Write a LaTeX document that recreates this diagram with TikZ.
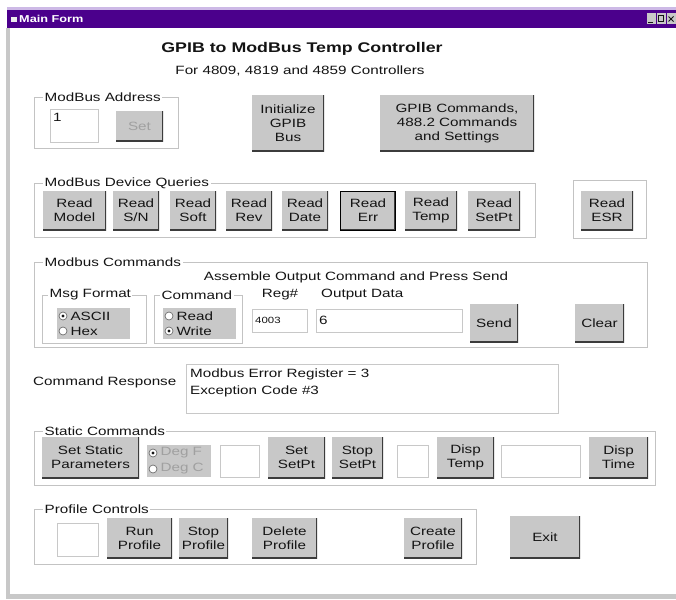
\documentclass[tikz,border=0pt]{standalone}
\usepackage{fontspec}
\setmainfont{Liberation Sans}[FakeStretch=1.27]
\usepackage{tikz}
\usetikzlibrary{positioning}
\definecolor{titlebar}{RGB}{75,0,140}
\definecolor{lavender}{RGB}{205,185,230}
\definecolor{btngray}{RGB}{200,200,200}
\definecolor{btnshade}{RGB}{60,60,60}
\definecolor{grpline}{RGB}{195,195,195}
\definecolor{darkedge}{RGB}{110,110,110}
\definecolor{lightedge}{RGB}{200,200,200}
\definecolor{txtcol}{RGB}{20,20,20}
\definecolor{distxt}{RGB}{160,160,160}
\definecolor{framegray}{RGB}{200,200,200}
\newcommand{\guifont}{\fontsize{12}{14}\selectfont}
\newcommand{\headfont}{\fontsize{14}{16}\selectfont\bfseries}
\newcommand{\smallgui}{\fontsize{9}{11}\selectfont}
\tikzset{
btn/.style = {rectangle, fill=btngray, inner sep=0pt, align=center, text=txtcol, font=\guifont,
  path picture={\draw[btnshade, line width=3pt] (path picture bounding box.south west) -- (path picture bounding box.south east) -- (path picture bounding box.north east);}},
focusbtn/.style = {btn, draw=black, line width=1pt},
tbox/.style = {rectangle, fill=white, draw=lightedge, line width=0.8pt, inner sep=0pt,
  path picture={\draw[darkedge, line width=2.4pt] (path picture bounding box.south west) -- (path picture bounding box.north west) -- (path picture bounding box.north east);}},
grp/.style = {draw=grpline, line width=0.9pt},
grplabel/.style = {font=\guifont, text=txtcol, fill=white, inner sep=1.5pt, anchor=west},
gtext/.style = {font=\guifont, text=txtcol, inner sep=1pt},
distext/.style = {gtext, text=distxt},
headtext/.style = {font=\headfont, text=txtcol, inner sep=0pt},
radioarea/.style = {rectangle, fill=btngray, inner sep=0pt},
radiobtn/.style = {circle, fill=white, draw=darkedge, line width=0.7pt, minimum size=8pt, inner sep=0pt},
radioon/.style = {radiobtn, path picture={\fill[txtcol] (path picture bounding box.center) circle (1.7pt);}},
capbtn/.style = {rectangle, fill=btngray, minimum width=9pt, minimum height=11pt, inner sep=0pt}
}

\begin{document}
\begin{tikzpicture}[x=1pt, y=-1pt]
  \useasboundingbox (0,0) rectangle (676,599);
  \fill[white] (0,0) rectangle (676,599);
  % window frame and caption
  \fill[framegray] (6,28) rectangle (10,599);
  \fill[framegray] (6,594) rectangle (676,599);
  \fill[lavender] (7,7) rectangle (676,10);
  \fill[titlebar] (7,10) rectangle (676,28);
  \fill[white!85!gray] (11,17) rectangle (17,22);
  \node[font=\fontsize{10}{12}\selectfont\bfseries, text=white, anchor=west, inner sep=0pt] (caption) at (19,19) {Main Form};
  \node[capbtn] (minbtn) at (651,19) {};
  \node[capbtn] (maxbtn) at (661,19) {};
  \node[capbtn] (closebtn) at (671,19) {};
  \draw[txtcol, line width=1pt] (648,22.5) -- (653,22.5);
  \draw[txtcol, line width=0.7pt] (658.5,15.5) rectangle (663.5,21.5);
  \draw[txtcol, line width=0.8pt] (668.5,16.5) -- (673.5,21.5) (668.5,21.5) -- (673.5,16.5);

  \node[headtext] (title) at (302,49) {GPIB to ModBus Temp Controller};
  \node[gtext] (subtitle) at (300,71) {For 4809, 4819 and 4859 Controllers};

  % address
  \draw[grp] (34,97) rectangle (178,148);
  \node[grplabel] (addrlbl) at (43,97) {ModBus Address};
  \node[tbox, minimum width=48pt, minimum height=33pt] (addr) at (74,125.5) {};
  \node[gtext, anchor=north west] (addrval) at (52,112) {1};
  \node[btn, text=distxt, minimum width=47pt, minimum height=30pt] (setaddr) at (139.5,126) {Set};
  \node[btn, minimum width=72pt, minimum height=56pt] (initgpib) at (288,123) {Initialize\\GPIB\\Bus};
  \node[btn, minimum width=154pt, minimum height=56pt] (gpibcmd) at (457,123) {GPIB Commands,\\488.2 Commands\\and Settings};

  % device queries
  \draw[grp] (34,183) rectangle (535,237);
  \node[grplabel] (devlbl) at (43,183) {ModBus Device Queries};
  \node[btn, minimum width=63pt, minimum height=39pt] (rmodel) at (74.5,210.5) {Read\\Model};
  \node[btn, minimum width=46pt, minimum height=39pt] (rsn) at (136,210.5) {Read\\S/N};
  \node[btn, minimum width=46pt, minimum height=39pt] (rsoft) at (193,210.5) {Read\\Soft};
  \node[btn, minimum width=46pt, minimum height=39pt] (rrev) at (249,210.5) {Read\\Rev};
  \node[btn, minimum width=46pt, minimum height=39pt] (rdate) at (305,210.5) {Read\\Date};
  \node[focusbtn, minimum width=55pt, minimum height=39pt] (rerr) at (368,210.5) {Read\\Err};
  \node[btn, minimum width=52pt, minimum height=39pt] (rtemp) at (431,210.5) {Read\\Temp};
  \node[btn, minimum width=52pt, minimum height=39pt] (rsetpt) at (494,210.5) {Read\\SetPt};
  \draw[grp] (573,180) rectangle (646,238);
  \node[btn, minimum width=52pt, minimum height=39pt] (resr) at (607,210.5) {Read\\ESR};

  % modbus commands
  \draw[grp] (34,262) rectangle (647,347);
  \node[grplabel] (cmdlbl) at (43,262) {Modbus Commands};
  \node[gtext] (assemble) at (356,277) {Assemble Output Command and Press Send};
  \draw[grp] (42,295) rectangle (146,343);
  \node[grplabel] (fmtlbl) at (48,295) {Msg Format};
  \node[radioarea, minimum width=73pt, minimum height=31pt] (fmtarea) at (93.5,323.5) {};
  \node[radioon] (ascii) at (63,316) {};
  \node[gtext, right=2pt of ascii] (asciitxt) {ASCII};
  \node[radiobtn] (hex) at (63,331) {};
  \node[gtext, right=2pt of hex] (hextxt) {Hex};
  \draw[grp] (154,295) rectangle (242,343);
  \node[grplabel] (sellbl) at (160,295) {Command};
  \node[radioarea, minimum width=73pt, minimum height=31pt] (cmdarea) at (199.5,323.5) {};
  \node[radiobtn] (rdsel) at (169,316) {};
  \node[gtext, right=2pt of rdsel] (rdtxt) {Read};
  \node[radioon] (wrsel) at (169,331) {};
  \node[gtext, right=2pt of wrsel] (wrtxt) {Write};
  \node[gtext] (reglbl) at (280,295) {Reg\#};
  \node[gtext, anchor=west] (outlbl) at (320,295) {Output Data};
  \node[tbox, minimum width=55pt, minimum height=23pt] (regbox) at (279.5,320.5) {};
  \node[gtext, font=\smallgui, anchor=west] (regval) at (254,320.5) {4003};
  \node[tbox, minimum width=146pt, minimum height=23pt] (outbox) at (389,320.5) {};
  \node[gtext, anchor=west] (outval) at (318,320.5) {6};
  \node[btn, minimum width=48pt, minimum height=38pt] (send) at (494,323) {Send};
  \node[btn, minimum width=49pt, minimum height=38pt] (clear) at (599.5,323) {Clear};

  % response
  \node[gtext, anchor=west] (resplbl) at (32,382) {Command Response};
  \node[tbox, minimum width=372pt, minimum height=49pt] (respbox) at (372,388.5) {};
  \node[gtext, font=\fontsize{12}{17}\selectfont, anchor=north west, align=left] (resptxt) at (189,368) {Modbus Error Register = 3\\Exception Code \#3};

  % static commands
  \draw[grp] (34,431) rectangle (655,485);
  \node[grplabel] (statlbl) at (43,431) {Static Commands};
  \node[btn, minimum width=97pt, minimum height=41pt] (setstatic) at (90.5,457.5) {Set Static\\Parameters};
  \node[radioarea, minimum width=64pt, minimum height=32pt] (degarea) at (179,461) {};
  \node[radioon] (degf) at (153,453) {};
  \node[distext, right=2pt of degf] (degftxt) {Deg F};
  \node[radiobtn] (degc) at (153,469) {};
  \node[distext, right=2pt of degc] (degctxt) {Deg C};
  \node[tbox, minimum width=39pt, minimum height=32pt] (degval) at (239.5,461) {};
  \node[btn, minimum width=57pt, minimum height=41pt] (setsp) at (296.5,457.5) {Set\\SetPt};
  \node[btn, minimum width=51pt, minimum height=41pt] (stopsp) at (357.5,457.5) {Stop\\SetPt};
  \node[tbox, minimum width=31pt, minimum height=32pt] (spval) at (412.5,461) {};
  \node[btn, minimum width=57pt, minimum height=41pt] (disptemp) at (465.5,457.5) {Disp\\Temp};
  \node[tbox, minimum width=79pt, minimum height=32pt] (tempval) at (540.5,461) {};
  \node[btn, minimum width=59pt, minimum height=41pt] (disptime) at (618.5,457.5) {Disp\\Time};

  % profile controls
  \draw[grp] (34,509) rectangle (476,564);
  \node[grplabel] (proflbl) at (43,509) {Profile Controls};
  \node[tbox, minimum width=41pt, minimum height=33pt] (profval) at (77.5,539.5) {};
  \node[btn, minimum width=65pt, minimum height=40pt] (runprof) at (139.5,538) {Run\\Profile};
  \node[btn, minimum width=49pt, minimum height=40pt] (stopprof) at (203.5,538) {Stop\\Profile};
  \node[btn, minimum width=65pt, minimum height=40pt] (delprof) at (284.5,538) {Delete\\Profile};
  \node[btn, minimum width=58pt, minimum height=40pt] (createprof) at (433,538) {Create\\Profile};
  \node[btn, minimum width=70pt, minimum height=42pt] (exit) at (545,537) {Exit};
\end{tikzpicture}
\end{document}
